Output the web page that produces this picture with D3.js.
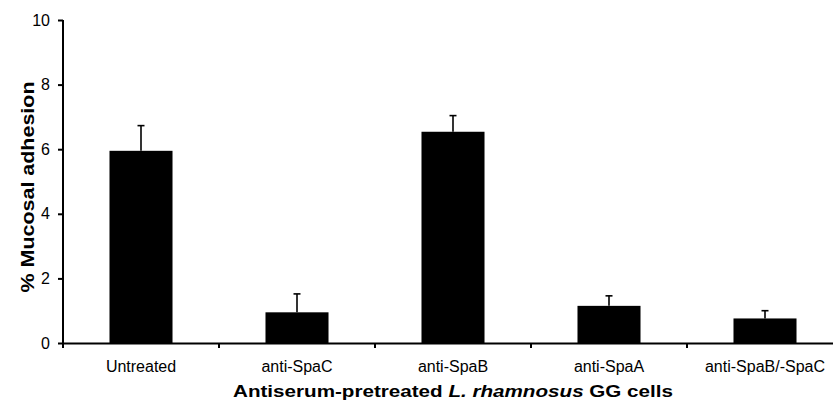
<!DOCTYPE html>
<html>
<head>
<meta charset="utf-8">
<script src="https://cdn.jsdelivr.net/npm/d3@7"></script>
<style>
  body { margin: 0; background: #fff; }
  svg { display: block; font-family: "Liberation Sans", Arial, sans-serif; }
</style>
</head>
<body>
<svg id="chart" width="833" height="402"></svg>
<script>
// data
const categories = ["Untreated", "anti-SpaC", "anti-SpaB", "anti-SpaA", "anti-SpaB/-SpaC"];
const adhesion = [5.95, 0.95, 6.54, 1.15, 0.76];
const errors = [0.78, 0.57, 0.5, 0.31, 0.24];
const yTicks = [0, 2, 4, 6, 8, 10];

const svg = d3.select("#chart");
const margin = { top: 20, left: 63, bottom: 59 };
const height = 402;

const x = d3.scaleBand()
  .domain(categories)
  .range([margin.left, margin.left + 156 * categories.length])
  .paddingInner(0)
  .paddingOuter(0);

const y = d3.scaleLinear()
  .domain([0, 10])
  .range([height - margin.bottom, margin.top]);

const barW = x.bandwidth() * 0.404;

// bars
svg.selectAll("rect.bar")
  .data(categories)
  .join("rect")
    .attr("class", "bar")
    .attr("x", d => x(d) + (x.bandwidth() - barW) / 2)
    .attr("y", (d, i) => y(adhesion[i]))
    .attr("width", barW)
    .attr("height", (d, i) => y(0) - y(adhesion[i]))
    .attr("fill", "#000");

// error bars (upper only)
const err = svg.selectAll("g.err")
  .data(categories)
  .join("g")
    .attr("class", "err")
    .attr("stroke", "#000")
    .attr("stroke-width", 1.6);

err.append("line")
  .attr("x1", d => x(d) + x.bandwidth() / 2)
  .attr("x2", d => x(d) + x.bandwidth() / 2)
  .attr("y1", (d, i) => y(adhesion[i]))
  .attr("y2", (d, i) => y(adhesion[i] + errors[i]));

err.append("line")
  .attr("x1", d => x(d) + x.bandwidth() / 2 - 3.5)
  .attr("x2", d => x(d) + x.bandwidth() / 2 + 3.5)
  .attr("y1", (d, i) => y(adhesion[i] + errors[i]))
  .attr("y2", (d, i) => y(adhesion[i] + errors[i]));

// y axis
const yAxis = svg.append("g")
  .attr("transform", `translate(${margin.left},0)`)
  .call(d3.axisLeft(y).tickValues(yTicks).tickSize(5).tickPadding(8).tickFormat(d3.format("d")));
yAxis.select(".domain").attr("stroke-width", 2).attr("d", `M0,${y(10)}V${y(0)}`);
yAxis.selectAll(".tick line").attr("stroke-width", 2);
yAxis.selectAll(".tick text").attr("font-size", 16).attr("fill", "#000")
  .attr("font-family", "'Liberation Sans', Arial, sans-serif");

// x axis: labels at band centres, ticks at band edges
const xAxis = svg.append("g")
  .attr("transform", `translate(0,${y(0)})`)
  .call(d3.axisBottom(x).tickSize(0).tickPadding(18));
xAxis.select(".domain").attr("stroke-width", 2);
xAxis.selectAll(".tick text").attr("font-size", 16).attr("fill", "#000")
  .attr("font-family", "'Liberation Sans', Arial, sans-serif");

xAxis.selectAll("line.edge")
  .data(categories)
  .join("line")
    .attr("class", "edge")
    .attr("x1", d => x(d))
    .attr("x2", d => x(d))
    .attr("y1", 0)
    .attr("y2", 5)
    .attr("stroke", "#000")
    .attr("stroke-width", 2);

// axis titles
const yTitle = svg.append("text")
  .attr("transform", `translate(34,${187}) rotate(-90)`)
  .attr("text-anchor", "middle")
  .attr("font-size", 19)
  .attr("font-weight", "bold")
  .attr("textLength", 211)
  .attr("lengthAdjust", "spacingAndGlyphs")
  .text("% Mucosal adhesion");

const xTitle = svg.append("text")
  .attr("x", 453)
  .attr("y", 397)
  .attr("text-anchor", "middle")
  .attr("font-size", 17)
  .attr("font-weight", "bold")
  .attr("textLength", 440)
  .attr("lengthAdjust", "spacingAndGlyphs");
xTitle.append("tspan").text("Antiserum-pretreated ");
xTitle.append("tspan").attr("font-style", "italic").text("L. rhamnosus");
xTitle.append("tspan").text(" GG cells");
</script>
</body>
</html>
